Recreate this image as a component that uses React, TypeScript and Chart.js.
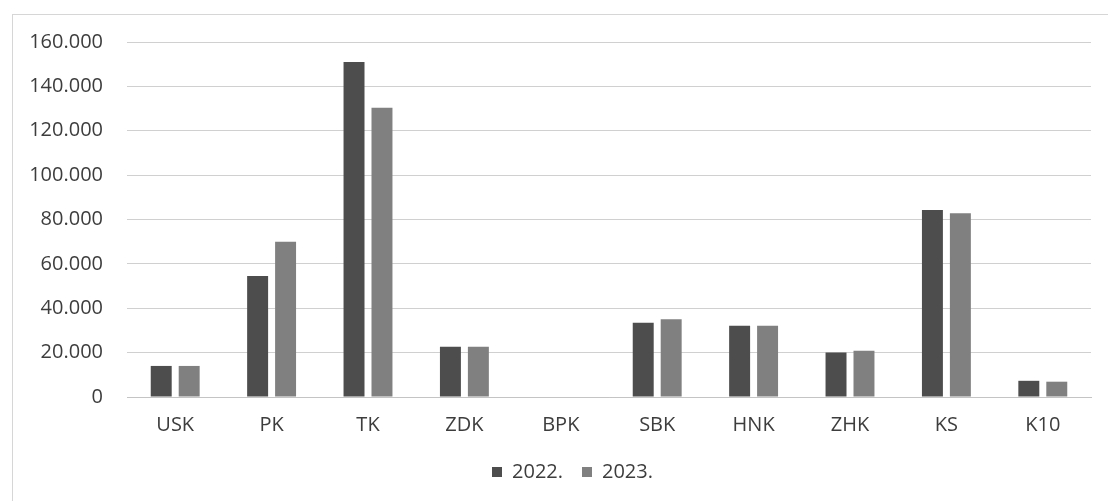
import React, { useEffect, useRef } from "react";
import { Chart, registerables } from "chart.js";

Chart.register(...registerables);

const categories = ["USK", "PK", "TK", "ZDK", "BPK", "SBK", "HNK", "ZHK", "KS", "K10"];
const values2022 = [14000, 54500, 151000, 22700, 0, 33500, 32100, 20100, 84300, 7300];
const values2023 = [14000, 70000, 130400, 22700, 0, 35000, 32100, 20900, 82800, 6900];
const seriesLabels = ["2022.", "2023."];
const yMin = 0;
const yMax = 160000;
const yStep = 20000;

const formatThousands = (v: number) =>
  Math.round(v).toString().replace(/\B(?=(\d{3})+(?!\d))/g, ".");

// Excel centres the legend on the whole chart frame, which extends past the right edge
const legendShift = {
  id: "legendShift",
  afterLayout(chart: any) {
    const l = chart.legend;
    if (l) {
      l.left += 27;
      l.right += 27;
    }
  },
};

export default function App() {
  const canvasRef = useRef<HTMLCanvasElement | null>(null);

  useEffect(() => {
    if (!canvasRef.current) return;
    const font = { family: "'Open Sans', sans-serif", size: 20 };
    const textColor = "#3d3d3d";
    const chart = new Chart(canvasRef.current, {
      type: "bar",
      data: {
        labels: categories,
        datasets: [
          {
            label: seriesLabels[0],
            data: values2022,
            backgroundColor: "#4d4d4d",
            categoryPercentage: 0.58,
            barPercentage: 0.75,
          },
          {
            label: seriesLabels[1],
            data: values2023,
            backgroundColor: "#808080",
            categoryPercentage: 0.58,
            barPercentage: 0.75,
          },
        ],
      },
      plugins: [legendShift],
      options: {
        animation: false,
        responsive: false,
        devicePixelRatio: 1,
        layout: { padding: { left: 0, right: 17, top: 42, bottom: 9 } },
        plugins: {
          tooltip: { enabled: false },
          legend: {
            position: "bottom",
            labels: {
              font,
              color: textColor,
              boxWidth: 10,
              boxHeight: 10,
              padding: 19,
            },
          },
        },
        scales: {
          x: {
            grid: { display: false, drawTicks: false },
            border: { display: true, color: "#c4c4c4" },
            ticks: { font, color: textColor, padding: 16 },
            afterFit: (scale: any) => {
              scale.height = 46;
            },
          },
          y: {
            min: yMin,
            max: yMax,
            grid: { color: "#d0d0d0", drawTicks: false },
            border: { display: false },
            afterFit: (scale: any) => {
              scale.width = 127;
            },
            ticks: {
              stepSize: yStep,
              font,
              color: textColor,
              padding: 24,
              callback: (v: any) => formatThousands(Number(v)),
            },
          },
        },
      },
    });
    return () => chart.destroy();
  }, []);

  return (
    <div
      style={{
        position: "absolute",
        left: 0,
        top: 0,
        width: 1108,
        height: 501,
        overflow: "hidden",
        background: "#ffffff",
      }}
    >
      <div
        style={{
          position: "absolute",
          left: 12,
          top: 14,
          width: 1200,
          height: 600,
          border: "1px solid #d6d6d6",
          pointerEvents: "none",
        }}
      />
      <canvas
        ref={canvasRef}
        width={1108}
        height={501}
        style={{ position: "absolute", left: 0, top: 0, width: 1108, height: 501 }}
      />
    </div>
  );
}
